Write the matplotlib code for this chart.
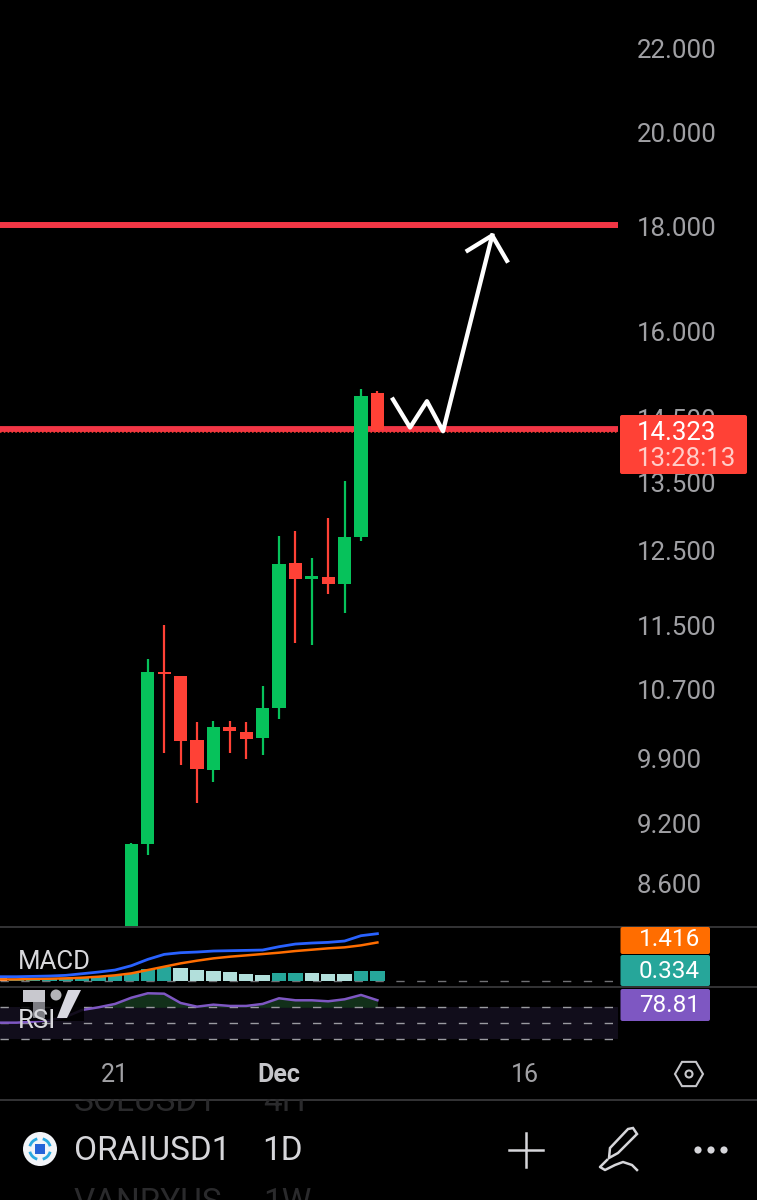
import matplotlib
matplotlib.use('Agg')
import matplotlib.pyplot as plt
from matplotlib.patches import Rectangle, Circle, Polygon, RegularPolygon, FancyBboxPatch, Arc
from matplotlib.ticker import NullLocator

# candles, x = days after Nov 21
days = [1, 2, 3, 4, 5, 6, 7, 8, 9, 10, 11, 12, 13, 14, 15, 16]
opens = [7.90, 8.994, 10.909, 10.860, 10.107, 9.772, 10.256, 10.198, 10.130, 10.477, 12.328, 12.110, 12.137, 12.041, 12.694, 14.920]
highs = [9.004, 11.071, 11.500, 10.860, 10.313, 10.325, 10.325, 10.313, 10.740, 12.708, 12.779, 12.397, 12.967, 13.517, 14.987, 14.953]
lows = [7.80, 8.884, 9.961, 9.827, 9.417, 9.643, 9.961, 9.894, 9.939, 10.349, 11.270, 11.245, 11.907, 11.656, 12.636, 14.281]
closes = [8.994, 10.909, 10.886, 10.095, 9.783, 10.256, 10.210, 10.119, 10.477, 12.314, 12.110, 12.151, 12.041, 12.694, 14.870, 14.323]

price_ticks = [22, 20, 18, 16, 14.5, 13.5, 12.5, 11.5, 10.7, 9.9, 9.2, 8.6]
price_labels = ['22.000', '20.000', '18.000', '16.000', '14.500', '13.500', '12.500', '11.500', '10.700', '9.900', '9.200', '8.600']
upper_level = 18.04
lower_level = 14.34
last_price = 14.323

# hand drawn arrow on the chart
sketch_days = [16.95, 17.99, 19.02, 20.0, 23.0]
sketch_prices = [14.82, 14.36, 14.79, 14.30, 17.82]
head_days = [21.5, 23.0, 23.9]
head_prices = [17.52, 17.82, 17.32]

# indicators
ind_days = list(range(-7, 17))
macd = [.148, .148, .160, .173, .198, .259, .321, .395, .556, .790, .975, 1.037, 1.062, 1.099, 1.111, 1.123, 1.136, 1.259, 1.358, 1.395, 1.420, 1.469, 1.667, 1.741]
signal = [.049, .049, .062, .074, .086, .111, .148, .198, .272, .395, .519, .642, .741, .827, .889, .938, .988, 1.037, 1.099, 1.148, 1.198, 1.235, 1.309, 1.416]
hist = [.19, .07, .07, .07, .09, .13, .17, .21, .27, .42, .49, .46, .40, .37, .32, .25, .22, .30, .30, .30, .25, .25, .36, .36]
hist_kind = ['p', 'd', 'd', 'd', 'd', 'd', 'd', 'd', 'd', 'd', 'd', 'l', 'l', 'l', 'l', 'l', 'l', 'd', 'd', 'l', 'l', 'l', 'd', 'd']
rsi = [50.8, 50.8, 52, 54, 58, 66.7, 70, 74.2, 82, 87.5, 87, 75.4, 70.8, 73.3, 71.7, 71.7, 74.2, 81.25, 78.75, 78.75, 77.5, 80, 85.4, 78.81]

date_ticks = [0, 10, 25]
date_labels = ['21', 'Dec', '16']

W, H = 757, 1200
GREEN = '#06c25b'
RED = '#ff4136'
LINE_RED = '#f23645'
GREY = '#a0a0a4'

plt.rcParams['font.family'] = 'Roboto'
fig = plt.figure(figsize=(W / 100, H / 100), dpi=100, facecolor='black')


def pane(top, bottom, right=618):
    a = fig.add_axes([0, 1 - bottom / H, right / W, (bottom - top) / H], facecolor='none')
    a.set_xlim(-115 / 16.4, (618 - 115) / 16.4)
    a.set_xticks([])
    for s in a.spines.values():
        s.set_visible(False)
    return a


# price pane
ax = pane(0, 927)
ax.set_yscale('log')
ax.set_ylim(8.19, 23.22)
ax.yaxis.tick_right()
ax.set_yticks(price_ticks, labels=price_labels)
ax.yaxis.set_minor_locator(NullLocator())
ax.tick_params(axis='y', length=0, pad=13.7, labelsize=18.6, labelcolor=GREY)

ax.axhline(upper_level, color=LINE_RED, lw=4.3, zorder=1)
ax.axhline(lower_level, color=LINE_RED, lw=4.2, zorder=1)
ax.axhline(last_price - 0.03, color=RED, lw=1.1, ls=(0, (1, 1.5)), zorder=1)

for d, o, h, l, c in zip(days, opens, highs, lows, closes):
    col = GREEN if c >= o else RED
    ax.vlines(d, l, h, color=col, lw=1.6, zorder=2)
    ax.bar(d, abs(c - o), bottom=min(o, c), width=0.81, color=col, zorder=3)

ax.plot(sketch_days, sketch_prices, color='white', lw=3.1, solid_joinstyle='round', zorder=5)
ax.plot(head_days, head_prices, color='white', lw=3.1, solid_joinstyle='round', zorder=5)

# MACD pane
ax_macd = pane(928, 986)
ax_macd.set_ylim(-5.3 / 27, 52.7 / 27)
ax_macd.set_yticks([])
hist_colors = {'d': '#26a69a', 'l': '#b2dfdb', 'p': '#ffcdb2'}
ax_macd.bar(ind_days, hist, width=0.88, color=[hist_colors[k] for k in hist_kind], zorder=2)
ax_macd.axhline(0, color='#707074', lw=1, ls=(0, (6, 9)), zorder=1)
ax_macd.plot(ind_days, signal, color='#ff6d00', lw=1.8, zorder=3)
ax_macd.plot(ind_days, macd, color='#2962ff', lw=2.0, zorder=4)

# RSI pane
ax_rsi = pane(988, 1043)
ax_rsi.set_ylim(25.4, 94.1)
ax_rsi.set_yticks([])
ax_rsi.axhspan(30, 70, color='#110d1b', lw=0, zorder=1)
ax_rsi.fill_between(ind_days, 70, rsi, where=[v >= 70 for v in rsi], interpolate=True, color='#12301a', lw=0, zorder=1)
for lvl in [70, 50, 30]:
    ax_rsi.axhline(lvl, color='#9a9aa0', lw=1, ls=(0, (6, 9)), zorder=2)
ax_rsi.plot(ind_days, rsi, color='#7e57c2', lw=1.8, zorder=3)

# app chrome, in pixels
ui = fig.add_axes([0, 0, 1, 1], facecolor='none')
ui.set_xlim(0, W)
ui.set_ylim(H, 0)
ui.axis('off')

for y in [927, 987, 1100]:
    ui.plot([0, W], [y, y], color='#343436', lw=1.4, zorder=1)

# price tags
ui.add_patch(FancyBboxPatch((620, 415), 127, 59, boxstyle='round,pad=0,rounding_size=2', fc=RED, ec='none', zorder=2))
ui.text(637, 433, f'{last_price:.3f}', color='white', fontsize=18.6, va='center', zorder=3)
ui.text(637, 459, '13:28:13', color='#ffcdc8', fontsize=18.6, va='center', zorder=3)

tags = [(927, 954, '#ff6d00', '1.416', 940), (955, 986, '#26a69a', '0.334', 971), (989, 1021, '#7e57c2', '78.81', 1005)]
for top, bot, col, txt, yc in tags:
    ui.add_patch(FancyBboxPatch((620.5, top), 89.5, bot - top, boxstyle='round,pad=0,rounding_size=2', fc=col, ec='none', zorder=2))
    ui.text(700, yc, txt, color='white', fontsize=17.5, ha='right', va='center', zorder=3)

# tradingview watermark
ui.add_patch(Rectangle((20, 988), 64, 33, fc='black', alpha=0.85, ec='none', zorder=4))
ui.add_patch(Rectangle((23, 990), 22, 12, fc='#c8c8ce', ec='none', zorder=5))
ui.add_patch(Rectangle((33, 1002), 12, 16, fc='#7c7c82', ec='none', zorder=5))
ui.add_patch(Circle((56, 995), 5.5, fc='#b4b4b8', ec='none', zorder=5))
ui.add_patch(Polygon([(68, 990), (81, 990), (67, 1018), (57, 1018)], fc='#d8d8e0', ec='none', zorder=5))

ui.text(18, 962, 'MACD', color='#d8d8dc', fontsize=18.6, va='center', zorder=6)
ui.text(18, 1021, 'RSI', color='#d8d8dc', fontsize=18.6, va='center', zorder=6)

# date axis
for d, lab in zip(date_ticks, date_labels):
    ui.text(115 + 16.4 * d, 1075, lab, color='#c6c6ca' if lab == 'Dec' else GREY, fontsize=18,
            fontweight='bold' if lab == 'Dec' else 'normal', ha='center', va='center', zorder=3)
ui.add_patch(RegularPolygon((689, 1074), 6, radius=14, orientation=0.5236, fc='none', ec='#c6c6ca', lw=1.5, zorder=3))
ui.add_patch(Circle((689, 1074), 3.5, fc='none', ec='#c6c6ca', lw=1.5, zorder=3))

# symbol rows behind the toolbar
for y, sym, tf in [(1102, 'SOLUSD1', '4H'), (1203, 'VANRYUS', '1W')]:
    ui.text(74, y, sym, color='#2a2a2c', fontsize=24, va='center', zorder=2)
    ui.text(263, y, tf, color='#2a2a2c', fontsize=24, va='center', zorder=2)
ui.add_patch(Rectangle((0, 1082), W, 17.3, fc='black', ec='none', zorder=2.5))

ui.text(74, 1151, 'ORAIUSD1', color='#d6d6da', fontsize=24, va='center', zorder=3)
ui.add_patch(Rectangle((228, 1130), 30, 40, fc='black', ec='none', zorder=3.5))
ui.text(262, 1151, '1D', color='#d6d6da', fontsize=24, va='center', zorder=4)

ui.add_patch(Circle((40, 1149), 17, fc='#f2f4f8', ec='none', zorder=3))
for t1, t2 in [(15, 75), (105, 165), (195, 255), (285, 345)]:
    ui.add_patch(Arc((40, 1149), 21, 21, color='#29a9e0', lw=2, zorder=4, theta1=t1, theta2=t2))
ui.add_patch(Rectangle((35, 1144), 10, 10, fc='#2563d8', ec='none', zorder=4))

ui.plot([509, 543], [1150, 1150], color='#d6d6da', lw=1.8, zorder=3)
ui.plot([526, 526], [1133, 1167], color='#d6d6da', lw=1.8, zorder=3)
ui.add_patch(Polygon([(609, 1158), (610, 1148), (628, 1129), (633, 1128), (637, 1134), (618, 1153)], closed=True, fc='none', ec='#d6d6da', lw=1.8, zorder=3))
ui.plot([607, 600, 605, 615, 623, 632, 637], [1160, 1167, 1170, 1165, 1162, 1165, 1170], color='#d6d6da', lw=1.8, zorder=3)
for x in [698, 711, 724]:
    ui.add_patch(Circle((x, 1150), 3.6, fc='#d6d6da', ec='none', zorder=3))

fig.savefig('out.png', dpi=100, facecolor='black')
